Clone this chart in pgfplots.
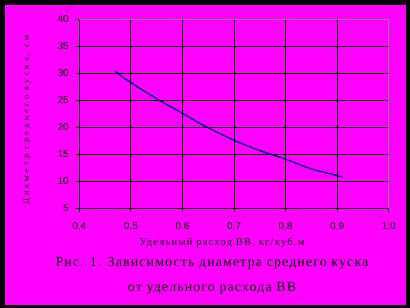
\documentclass[border=0pt]{standalone}
\usepackage{pgfplots}
\pgfplotsset{compat=1.18}
\usepackage{fontspec}
\setmainfont{Liberation Serif}
\newfontfamily\tickfont{Liberation Sans}
\newfontfamily\capfont[LetterSpace=8]{Liberation Serif}
\newfontfamily\labfont[LetterSpace=12]{Liberation Serif}
\newfontfamily\ylabfont[LetterSpace=37]{Liberation Serif}
\definecolor{bgmag}{HTML}{FF00FF}
\definecolor{navyline}{HTML}{000080}
\begin{document}
\begin{tikzpicture}[x=1bp,y=1bp]
\fill[black] (0,0) rectangle (410,308);
\fill[bgmag] (5,3) rectangle (406,303);
\begin{axis}[
  at={(79.3bp,99.7bp)}, anchor=south west,
  scale only axis, width=309.4bp, height=189bp,
  xmin=0.4, xmax=1.0, ymin=5, ymax=40,
  xtick={0.4,0.5,...,1.0}, ytick={5,10,...,40},
  axis x line*=bottom, axis y line*=left,
  axis line style={black, line width=0.8bp, -},
  tick align=outside, major tick length=4bp,
  tick style={black, line width=0.8bp},
  grid=major, major grid style={black, line width=0.8bp},
  ticklabel style={font=\tickfont\fontsize{10}{12}\selectfont, black},
  /pgf/number format/assume math mode=true,
  /pgf/number format/use comma,
  xticklabel style={/pgf/number format/fixed, /pgf/number format/fixed zerofill, /pgf/number format/precision=1, yshift=-7bp},
  yticklabel style={xshift=-3bp},
  clip=false,
]
\addplot[navyline, line width=1.4bp, smooth] coordinates {
(0.47,30.4) (0.49,28.9) (0.55,25.3) (0.60,22.6) (0.64,20.4) (0.70,17.6)
(0.75,15.7) (0.80,14.1) (0.85,12.3) (0.89,11.3) (0.91,10.8)
};
\draw[gray, line width=0.8bp] (axis cs:0.4,40) -- (axis cs:1.0,40) -- (axis cs:1.0,5);
\end{axis}
\node[rotate=90, font=\ylabfont\fontsize{8.5}{10}\selectfont] at (27,188) {Диаметр среднего куска, см};
\node[font=\labfont\fontsize{10.5}{12}\selectfont] at (222,65) {Удельный расход ВВ, кг/куб.м};
\node[font=\capfont\fontsize{14}{16}\selectfont] at (212,45) {Рис. 1. Зависимость диаметра среднего куска};
\node[font=\capfont\fontsize{14}{16}\selectfont] at (212,20) {от удельного расхода ВВ};
\end{tikzpicture}
\end{document}
